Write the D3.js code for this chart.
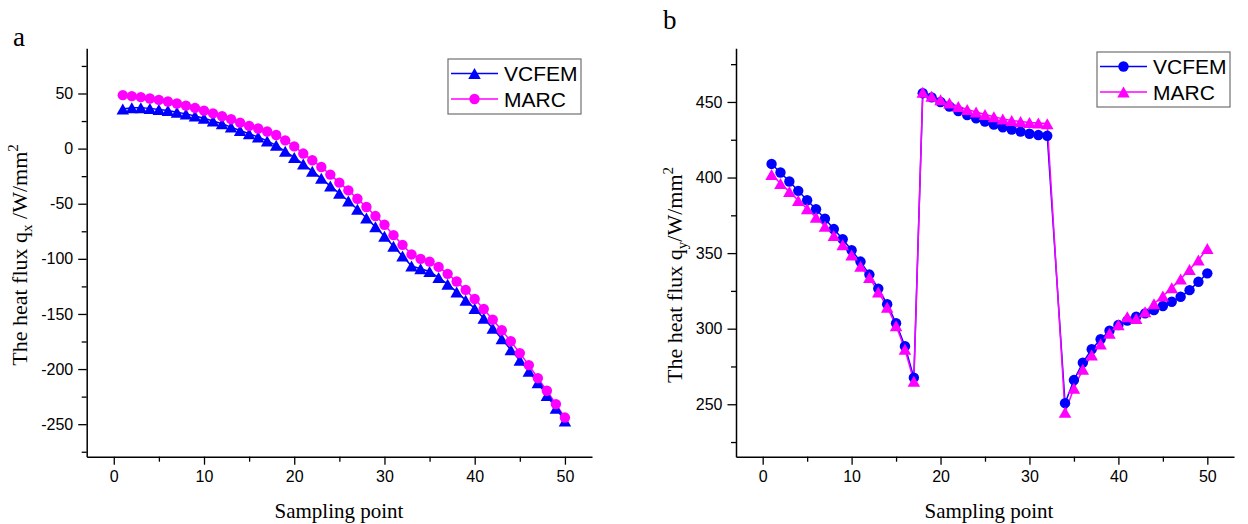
<!DOCTYPE html>
<html>
<head>
<meta charset="utf-8">
<script src="https://cdn.jsdelivr.net/npm/d3@7"></script>
<style>
  html, body { margin: 0; padding: 0; background: #fff; }
  svg { display: block; }
</style>
</head>
<body>
<svg id="chart" width="1248" height="524"></svg>
<script>
// ---------------- DATA ----------------
// Panel a: heat flux q_x
const pointsA = [1,2,3,4,5,6,7,8,9,10,11,12,13,14,15,16,17,18,19,20,21,22,23,24,25,26,27,28,29,30,31,32,33,34,35,36,37,38,39,40,41,42,43,44,45,46,47,48,49,50];
const vcfemA = [36,37,37,36.5,35.5,34.5,33,31.5,29.5,27.5,25,22.5,19.5,16.5,13.5,10.5,7,3,-2.5,-8,-14,-20.5,-27,-34,-40.5,-47.5,-55,-63,-71,-79.5,-88.5,-97.5,-106.5,-109,-111.5,-117,-123,-130,-137.5,-145,-154,-163,-172.5,-182.5,-192,-202,-212.5,-224,-235.5,-247];
const marcA = [48.5,47.6,46.7,45.5,44.2,42.7,40.9,39,36.9,34.5,32,29.4,26.7,23.6,20.6,18.2,15.5,12.3,7.5,2,-4.5,-10.6,-16.7,-23.6,-30.9,-37.9,-45.5,-53,-61.2,-69.1,-78.5,-87.3,-96,-100,-102.5,-107.3,-113.6,-120.6,-128.2,-136.4,-145.5,-155.2,-164.8,-174.8,-185.5,-196.4,-208.2,-219.7,-231.8,-244];

// Panel b: heat flux q_y (no sampling point 33)
const pointsB = [1,2,3,4,5,6,7,8,9,10,11,12,13,14,15,16,17,18,19,20,21,22,23,24,25,26,27,28,29,30,31,32,34,35,36,37,38,39,40,41,42,43,44,45,46,47,48,49,50];
const vcfemB = [409,403.3,397.4,391.2,385,379,372.7,365.9,359.2,351.9,344.4,335.8,326.5,316.2,303.6,288.4,267.6,
                455.8,453,450,447,444,441.4,439.2,437,435,433.3,431.7,430.4,429,428.1,427.6,
                250.7,266,277.5,286.4,293,298.6,302.4,305.3,307.9,310.1,312.3,315,317.8,321.1,325.5,331,336.6];
const marcB = [402,396,390.7,384.8,379.3,373.8,367.8,361.6,355.5,348.8,341.3,333.8,324.3,314.2,302,286.4,265.2,
               456.5,453.7,451.5,449.3,447,445,443.3,441.7,440.2,438.8,437.7,437,436.4,436,435.6,
               244.7,260.6,273.1,282.6,289.9,296.9,302.6,307.9,306.8,311.2,316.5,321.6,327,332.8,339.2,345.4,353.1];

const seriesNames = ["VCFEM", "MARC"];
const xTicks = [0,10,20,30,40,50];
const xMinorTicks = [5,15,25,35,45];
const yTicksA = [-250,-200,-150,-100,-50,0,50];
const yMinorTicksA = [-275,-225,-175,-125,-75,-25,25,75];
const yTicksB = [250,300,350,400,450];
const yMinorTicksB = [225,275,325,375,425,475];

// ---------------- DRAWING ----------------
const svg = d3.select("#chart");
const BLUE = "#0000ff", MAGENTA = "#ff00ff";
const tickFont = "'Liberation Sans', Arial, sans-serif";
const serif = "'Liberation Serif', 'Times New Roman', serif";

function triPath(w, h) {
  return `M0,${-h/2}L${w/2},${h/2}L${-w/2},${h/2}Z`;
}

function drawMarker(g, shape, color, x, y) {
  if (shape === "circle") {
    g.append("circle").attr("cx", x).attr("cy", y).attr("r", 5.2).attr("fill", color);
  } else {
    g.append("path").attr("d", triPath(12.5, 11)).attr("transform", `translate(${x},${y})`).attr("fill", color);
  }
}

function panel(cfg) {
  const x = d3.scaleLinear().domain([-3, 53]).range([cfg.left, cfg.right]);
  const y = d3.scaleLinear().domain(cfg.yDomain).range([cfg.bottom, cfg.top]);
  const g = svg.append("g");

  // minor ticks
  g.append("g").attr("transform", `translate(0,${cfg.bottom})`)
    .call(d3.axisBottom(x).tickValues(xMinorTicks).tickSize(5).tickSizeOuter(0).tickFormat(""))
    .call(a => a.select(".domain").remove());
  g.append("g").attr("transform", `translate(${cfg.left},0)`)
    .call(d3.axisLeft(y).tickValues(cfg.yMinor).tickSize(5).tickSizeOuter(0).tickFormat(""))
    .call(a => a.select(".domain").remove());

  // major axes
  const xa = g.append("g").attr("transform", `translate(0,${cfg.bottom})`)
    .call(d3.axisBottom(x).tickValues(xTicks).tickSize(8).tickSizeOuter(0).tickPadding(6).tickFormat(d3.format("d")));
  const ya = g.append("g").attr("transform", `translate(${cfg.left},0)`)
    .call(d3.axisLeft(y).tickValues(cfg.yTicks).tickSize(8.5).tickSizeOuter(0).tickPadding(5).tickFormat(d => String(d)));
  [xa, ya].forEach(a => {
    a.selectAll("text").attr("font-family", tickFont).attr("font-size", 16).attr("fill", "#000");
    a.selectAll("line").attr("stroke", "#000").attr("stroke-width", 1.3);
    a.select(".domain").attr("stroke", "#000").attr("stroke-width", 1.5);
  });
  g.selectAll(".tick line").attr("stroke", "#000").attr("stroke-width", 1.3);

  // series
  const line = d3.line().x(d => x(d[0])).y(d => y(d[1]));
  cfg.series.forEach(s => {
    const pts = cfg.points.map((p, i) => [p, s.values[i]]);
    g.append("path").datum(pts).attr("d", line).attr("fill", "none")
      .attr("stroke", s.color).attr("stroke-width", 1.5);
  });
  cfg.series.forEach(s => {
    const mg = g.append("g");
    cfg.points.forEach((p, i) => drawMarker(mg, s.shape, s.color, x(p), y(s.values[i])));
  });

  // legend
  const lg = g.append("g");
  lg.append("rect").attr("x", cfg.legend.x).attr("y", cfg.legend.y)
    .attr("width", 133).attr("height", 55).attr("fill", "#fff")
    .attr("stroke", "#707070").attr("stroke-width", 1.2);
  cfg.series.forEach((s, i) => {
    const cy = cfg.legend.y + 14.5 + i * 25.5;
    const lx = cfg.legend.x + 3;
    lg.append("line").attr("x1", lx).attr("x2", lx + 47).attr("y1", cy).attr("y2", cy)
      .attr("stroke", s.color).attr("stroke-width", 1.5);
    drawMarker(lg, s.shape, s.color, lx + 23.5, cy);
    lg.append("text").attr("x", lx + 53).attr("y", cy + 7.5)
      .attr("font-family", tickFont).attr("font-size", 21).attr("fill", "#000").text(s.name);
  });

  // x title
  g.append("text").attr("x", cfg.xTitleX).attr("y", 518).attr("text-anchor", "middle")
    .attr("font-family", serif).attr("font-size", 21).attr("fill", "#000").text("Sampling point");

  // y title
  const yt = g.append("text")
    .attr("transform", `translate(${cfg.yTitle.x},${cfg.yTitle.y}) rotate(-90)`)
    .attr("text-anchor", "middle").attr("font-family", serif).attr("font-size", 22).attr("fill", "#000");
  yt.append("tspan").text("The heat flux q");
  yt.append("tspan").attr("font-size", 15).attr("dy", 5).text(cfg.sub);
  yt.append("tspan").attr("dy", -5).text(cfg.slashGap + "/W/mm");
  yt.append("tspan").attr("font-size", 15).attr("dy", -9).text("2");

  // panel letter
  svg.append("text").attr("x", cfg.letter.x).attr("y", cfg.letter.y)
    .attr("font-family", serif).attr("font-size", 27).attr("fill", "#000").text(cfg.letter.t);
}

panel({
  left: 86.7, right: 592, top: 48.3, bottom: 456.7,
  yDomain: [-279.5, 91], yTicks: yTicksA, yMinor: yMinorTicksA,
  points: pointsA,
  series: [
    { name: seriesNames[0], values: vcfemA, color: BLUE, shape: "triangle" },
    { name: seriesNames[1], values: marcA, color: MAGENTA, shape: "circle" }
  ],
  legend: { x: 448, y: 59 },
  xTitleX: 339,
  yTitle: { x: 27, y: 255 },
  sub: "x", slashGap: " ",
  letter: { x: 13, y: 46, t: "a" }
});

panel({
  left: 736, right: 1234, top: 48.3, bottom: 456.7,
  yDomain: [215.3, 485.5], yTicks: yTicksB, yMinor: yMinorTicksB,
  points: pointsB,
  series: [
    { name: seriesNames[0], values: vcfemB, color: BLUE, shape: "circle" },
    { name: seriesNames[1], values: marcB, color: MAGENTA, shape: "triangle" }
  ],
  legend: { x: 1097, y: 52 },
  xTitleX: 989,
  yTitle: { x: 682, y: 275 },
  sub: "y", slashGap: "",
  letter: { x: 663, y: 29, t: "b" }
});
</script>
</body>
</html>
